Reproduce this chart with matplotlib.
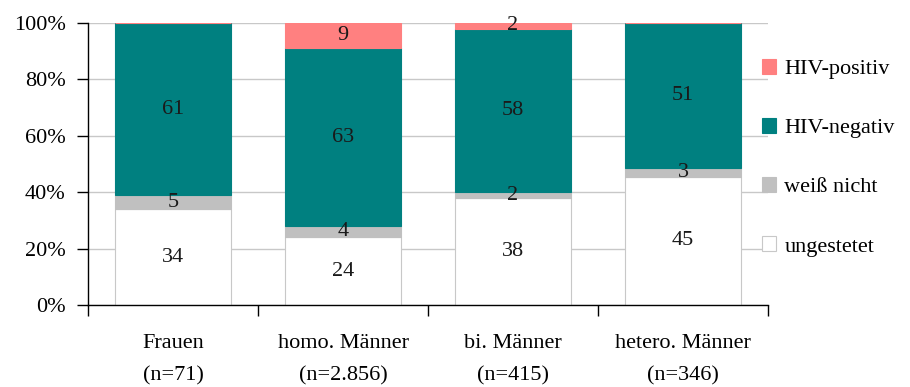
import matplotlib
matplotlib.use("Agg")
import matplotlib.pyplot as plt
import numpy as np

categories = ["Frauen\n(n=71)", "homo. Männer\n(n=2.856)", "bi. Männer\n(n=415)", "hetero. Männer\n(n=346)"]
ungestetet = [34, 24, 38, 45]
weiss_nicht = [5, 4, 2, 3]
hiv_negativ = [61, 63, 58, 51]
hiv_positiv = [0, 9, 2, 0]
series_names = ["ungestetet", "weiß nicht", "HIV-negativ", "HIV-positiv"]
yticks = [0, 20, 40, 60, 80, 100]

plt.rcParams['font.family'] = ['Liberation Serif', 'DejaVu Serif']

colors = ["#FFFFFF", "#C0C0C0", "#008080", "#FF8080"]
edges = ["#C8C8C8", "#C0C0C0", "#008080", "#FF8080"]
FS = 16

fig = plt.figure(figsize=(9.1, 3.87), dpi=100)
ax = fig.add_axes([88/910, 1-305/387, (768-88)/910, (305-23)/387])

data = np.array([ungestetet, weiss_nicht, hiv_negativ, hiv_positiv], dtype=float)
totals = data.sum(axis=0)
pct = data / totals * 100
x = np.arange(len(categories))
bottom = np.zeros(len(categories))
handles = []
for i, name in enumerate(series_names):
    b = ax.bar(x, pct[i], bottom=bottom, width=0.68, color=colors[i],
               edgecolor=edges[i], linewidth=0.8, label=name, zorder=2)
    handles.append(b)
    for j in range(len(categories)):
        v = data[i, j]
        if v > 0:
            ax.text(x[j], bottom[j] + pct[i, j] / 2, f"{int(v)}", ha="center", va="center",
                    fontsize=FS, color="#1a1a1a", zorder=3)
    bottom += pct[i]

ax.set_xlim(-0.5, len(categories) - 0.5)
ax.set_ylim(0, 100)
ax.set_yticks(yticks)
ax.set_yticklabels([f"{t}%" for t in yticks], fontsize=FS)
ax.yaxis.grid(True, color="#C8C8C8", linewidth=1.0, zorder=0)
ax.set_axisbelow(True)
ax.set_xticks(np.arange(len(categories) + 1) - 0.5, minor=False)
ax.set_xticklabels([])
ax.set_xticks(x, minor=True)
ax.set_xticklabels(categories, minor=True, fontsize=FS, linespacing=1.9)
ax.tick_params(axis="x", which="minor", length=0, pad=21)
ax.tick_params(axis="x", which="major", length=8, direction="out", width=1)
ax.tick_params(axis="y", length=8, direction="out", width=1, pad=8)
for s in ["top", "right"]:
    ax.spines[s].set_visible(False)
ax.spines["left"].set_linewidth(1)
ax.spines["bottom"].set_linewidth(1)

leg = fig.legend(handles[::-1], series_names[::-1], loc="upper left",
                 bbox_to_anchor=(762/910, 1-59/387), frameon=False, fontsize=FS,
                 handlelength=0.65, handleheight=0.65, handletextpad=0.35,
                 labelspacing=1.75, borderaxespad=0, borderpad=0)

fig.savefig("out.png", dpi=100)
